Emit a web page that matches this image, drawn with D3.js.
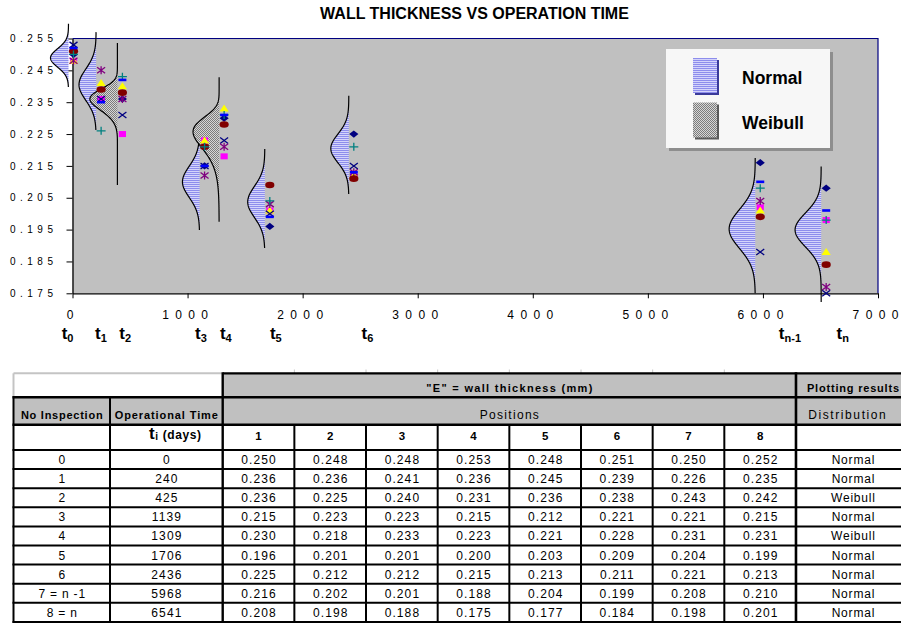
<!DOCTYPE html>
<html>
<head>
<meta charset="utf-8">
<script src="https://cdn.jsdelivr.net/npm/d3@7"></script>
<style>
  html, body { margin: 0; padding: 0; background: #fff; }
  svg { display: block; font-family: "Liberation Sans", Arial, sans-serif; }
</style>
</head>
<body>
<svg id="chart" width="901" height="624"></svg>
<script>
// ---------------- data ----------------
const inspectionLabels = ["0", "1", "2", "3", "4", "5", "6", "7 = n -1", "8 = n"];
const timeDays = [0, 240, 425, 1139, 1309, 1706, 2436, 5968, 6541];
const timeSubscripts = ["0", "1", "2", "3", "4", "5", "6", "n-1", "n"];

// wall thickness (mm) at measuring positions 1..8, one value per inspection
const pos1 = [0.250, 0.236, 0.236, 0.215, 0.230, 0.196, 0.225, 0.216, 0.208];
const pos2 = [0.248, 0.236, 0.225, 0.223, 0.218, 0.201, 0.212, 0.202, 0.198];
const pos3 = [0.248, 0.241, 0.240, 0.223, 0.233, 0.201, 0.212, 0.201, 0.188];
const pos4 = [0.253, 0.236, 0.231, 0.215, 0.223, 0.200, 0.215, 0.188, 0.175];
const pos5 = [0.248, 0.245, 0.236, 0.212, 0.221, 0.203, 0.213, 0.204, 0.177];
const pos6 = [0.251, 0.239, 0.238, 0.221, 0.228, 0.209, 0.211, 0.199, 0.184];
const pos7 = [0.250, 0.226, 0.243, 0.221, 0.231, 0.204, 0.221, 0.208, 0.198];
const pos8 = [0.252, 0.235, 0.242, 0.215, 0.231, 0.199, 0.213, 0.210, 0.201];
const positions = [pos1, pos2, pos3, pos4, pos5, pos6, pos7, pos8];

const distribution = ["Normal", "Normal", "Weibull", "Normal", "Weibull", "Normal", "Normal", "Normal", "Normal"];
const distributionTypes = ["Normal", "Weibull"];

// fitted density per inspection: centre = mean (Normal) or mode (Weibull),
// spread = standard deviation (Normal) or scale (Weibull)
const curveCentre = [0.2489, 0.2405, 0.2360, 0.2100, 0.2257, 0.2037, 0.2205, 0.1952, 0.1949];
const curveSpread = [0.0029, 0.0049, 0.0156, 0.0049, 0.0569, 0.0049, 0.0045, 0.0061, 0.0053];
const weibullShape = [null, null, 5, null, 12, null, null, null, null];
const curveLow  = [0.2398, 0.2263, 0.2090, 0.1949, 0.1975, 0.1892, 0.2062, 0.1750, 0.1723];
const curveHigh = [0.2596, 0.2570, 0.2536, 0.2225, 0.2428, 0.2203, 0.2370, 0.2175, 0.2148];
const curvePeak = [1.0, 0.95, 1.53, 0.95, 1.45, 0.95, 1.0, 1.45, 1.45];

const xTicks = [0, 1000, 2000, 3000, 4000, 5000, 6000, 7000];
const yTicks = [0.175, 0.185, 0.195, 0.205, 0.215, 0.225, 0.235, 0.245, 0.255];

const chartTitle = "WALL THICKNESS VS OPERATION TIME";

// ---------------- chart ----------------
const svg = d3.select("#chart");
const FONT = "Liberation Sans, Arial, sans-serif";
const plot = { left: 72.5, right: 878, top: 38.5, bottom: 293.3 };

const x = d3.scaleLinear().domain([0, 7000]).range([plot.left, plot.right]);
const y = d3.scaleLinear().domain([0.175, 0.255]).range([plot.bottom, plot.top]);
const bulge = d3.scaleLinear().domain([0, 1]).range([0, 18]);

const defs = svg.append("defs");
const pn = defs.append("pattern").attr("id", "normalFill")
  .attr("patternUnits", "userSpaceOnUse").attr("width", 4).attr("height", 2);
pn.append("rect").attr("width", 4).attr("height", 2).attr("fill", "#d4d4fb");
pn.append("rect").attr("width", 4).attr("height", 1).attr("fill", "#8d8dec");
const pw = defs.append("pattern").attr("id", "weibullFill")
  .attr("patternUnits", "userSpaceOnUse").attr("width", 2).attr("height", 2);
pw.append("rect").attr("width", 2).attr("height", 2).attr("fill", "#d6d6d6");
pw.append("rect").attr("x", 0).attr("y", 0).attr("width", 1).attr("height", 1).attr("fill", "#7c7c7c");
pw.append("rect").attr("x", 1).attr("y", 1).attr("width", 1).attr("height", 1).attr("fill", "#7c7c7c");

// title
svg.append("text")
  .attr("x", 474.5).attr("y", 19)
  .attr("text-anchor", "middle")
  .attr("font-size", 16).attr("font-weight", "bold")
  .text(chartTitle);

// plot area
svg.append("rect")
  .attr("x", plot.left).attr("y", plot.top)
  .attr("width", plot.right - plot.left).attr("height", plot.bottom - plot.top)
  .attr("fill", "#c0c0c0");
svg.append("path")
  .attr("d", `M${plot.left},${plot.top}H${plot.right}V${plot.bottom}`)
  .attr("fill", "none").attr("stroke", "#000080").attr("stroke-width", 1.2);

// axes
const yAxis = d3.axisLeft(y).tickValues(yTicks).tickSize(6).tickSizeOuter(0)
  .tickPadding(9).tickFormat(d3.format(".3f"));
svg.append("g").attr("transform", `translate(${plot.left},0)`).call(yAxis)
  .attr("font-family", FONT).attr("font-size", 10)
  .call(g => g.selectAll("text").attr("letter-spacing", "4.5px").attr("fill", "#000"))
  .call(g => g.select(".domain").attr("stroke", "#000").attr("stroke-width", 1.3));

// x labels: wide gaps between digits only (no trailing gap)
const xAxis = d3.axisBottom(x).tickValues(xTicks).tickSize(5).tickSizeOuter(0)
  .tickPadding(12).tickFormat(d3.format("d"));
svg.append("g").attr("transform", `translate(0,${plot.bottom})`).call(xAxis)
  .attr("font-family", FONT).attr("font-size", 12)
  .call(g => g.selectAll("text").attr("fill", "#000").attr("dx", -3)
    .each(function (d) {
      const n = String(d).length;
      if (n > 1) d3.select(this).attr("textLength", n * 6.67 + (n - 1) * 6.4).attr("lengthAdjust", "spacing");
    }))
  .call(g => g.select(".domain").attr("stroke", "#000").attr("stroke-width", 1.3));

// time labels t0 .. tn under the axis
const labelNudge = [-10.8, -5.1, -2.1, -8.6, -3.2, 1.1, 8.8, 19.6, 11.3];
const tl = svg.append("g").selectAll("text").data(timeDays).join("text")
  .attr("x", (d, i) => x(d) + labelNudge[i])
  .attr("y", 339)
  .attr("font-weight", "bold").attr("font-size", 17);
tl.append("tspan").text("t");
tl.append("tspan").attr("font-size", 11).attr("dy", 2.5).text((d, i) => timeSubscripts[i]);

// fitted density curves, drawn sideways to the left of each inspection time
function density(i, v) {
  if (distribution[i] === "Normal") {
    const z = (v - curveCentre[i]) / curveSpread[i];
    return Math.exp(-0.5 * z * z);
  }
  const k = weibullShape[i], lam = curveSpread[i];
  const zm = Math.pow((k - 1) / k, 1 / k);
  const loc = curveCentre[i] - lam * zm;
  const z = (v - loc) / lam;
  if (z <= 0) return 0;
  const f = zz => Math.pow(zz, k - 1) * Math.exp(-Math.pow(zz, k));
  return f(z) / f(zm);
}

const curveG = svg.append("g");
timeDays.forEach((t, i) => {
  const base = x(t) - 4;
  const n = 200;
  const pts = d3.range(n + 1).map(j => {
    const v = curveLow[i] + (curveHigh[i] - curveLow[i]) * j / n;
    return { v, w: bulge(curvePeak[i] * density(i, v)) };
  });
  const area = d3.area().y(d => y(d.v)).x0(base).x1(d => base - d.w).curve(d3.curveLinear);
  const line = d3.line().y(d => y(d.v)).x(d => base - d.w);
  curveG.append("path").attr("d", area(pts))
    .attr("fill", distribution[i] === "Normal" ? "url(#normalFill)" : "url(#weibullFill)");
  curveG.append("path").attr("d", line(pts))
    .attr("fill", "none").attr("stroke", "#000").attr("stroke-width", 1.2);
});

// markers, one series per measuring position
const markerStyle = [
  { color: "#000080", draw: g => g.append("path").attr("d", "M0,-3.6L4.6,0L0,3.6L-4.6,0Z") },
  { color: "#ff00ff", draw: g => g.append("rect").attr("x", -3.6).attr("y", -3).attr("width", 7.2).attr("height", 6) },
  { color: "#ffff00", draw: g => g.append("path").attr("d", "M0,-4L4.6,3L-4.6,3Z") },
  { color: "#000080", stroke: true, draw: g => g.append("path").attr("d", "M-4,-3L4,3M-4,3L4,-3") },
  { color: "#800080", stroke: true, draw: g => g.append("path").attr("d", "M-4,-3L4,3M-4,3L4,-3M0,-4V4") },
  { color: "#800000", draw: g => g.append("ellipse").attr("rx", 4.6).attr("ry", 3.3) },
  { color: "#008080", stroke: true, draw: g => g.append("path").attr("d", "M-4.5,0H4.5M0,-4V4") },
  { color: "#0000ff", draw: g => g.append("rect").attr("x", -4).attr("y", -1.3).attr("width", 8).attr("height", 2.6) }
];

const markG = svg.append("g");
positions.forEach((series, p) => {
  const st = markerStyle[p];
  series.forEach((v, i) => {
    const g = markG.append("g").attr("transform", `translate(${x(timeDays[i]) + 1},${y(v)})`);
    const m = st.draw(g);
    if (st.stroke) m.attr("fill", "none").attr("stroke", st.color).attr("stroke-width", 1.3);
    else m.attr("fill", st.color);
  });
});

// legend
const lg = svg.append("g");
lg.append("rect").attr("x", 669).attr("y", 52).attr("width", 164).attr("height", 99).attr("fill", "#8e8e8e");
lg.append("rect").attr("x", 666).attr("y", 49).attr("width", 164).attr("height", 99).attr("fill", "#f7f7f7");
const swatchFill = { Normal: ["url(#normalFill)", "#3a3a9a"], Weibull: ["url(#weibullFill)", "#5a5a5a"] };
distributionTypes.forEach((name, k) => {
  const top = 58 + k * 44.5;
  lg.append("rect").attr("x", 695).attr("y", top + 2).attr("width", 24).attr("height", 35).attr("fill", swatchFill[name][1]);
  lg.append("rect").attr("x", 693).attr("y", top).attr("width", 24).attr("height", 35).attr("fill", swatchFill[name][0]);
  lg.append("text").attr("x", 742).attr("y", top + 26)
    .attr("font-size", 17.5).attr("font-weight", "bold").text(name);
});

// ---------------- table ----------------
const tbl = svg.append("g");
const colEdges = [13.5, 110, 222.7];
for (let c = 1; c <= 8; c++) colEdges.push(222.7 + 71.66 * c);
colEdges.push(906);
const rowEdges = [373.3, 397.3, 424.7, 450];
for (let r = 1; r <= inspectionLabels.length; r++) rowEdges.push(450 + 19.1 * r);
const tableBottom = rowEdges[rowEdges.length - 1];
const colMid = c => (colEdges[c] + colEdges[c + 1]) / 2;
const spanMid = (a, b) => (colEdges[a] + colEdges[b + 1]) / 2;

// header fills
const gray = "#c0c0c0";
tbl.append("rect").attr("x", colEdges[2]).attr("y", rowEdges[0])
  .attr("width", colEdges[11] - colEdges[2]).attr("height", rowEdges[1] - rowEdges[0]).attr("fill", gray);
tbl.append("rect").attr("x", colEdges[0]).attr("y", rowEdges[1])
  .attr("width", colEdges[11] - colEdges[0]).attr("height", rowEdges[2] - rowEdges[1]).attr("fill", gray);

// grid lines
const hLine = (yy, x1, x2, color, w) => tbl.append("line")
  .attr("x1", x1).attr("x2", x2).attr("y1", yy).attr("y2", yy).attr("stroke", color).attr("stroke-width", w);
const vLine = (xx, y1, y2, color, w) => tbl.append("line")
  .attr("x1", xx).attr("x2", xx).attr("y1", y1).attr("y2", y2).attr("stroke", color).attr("stroke-width", w);

for (let c = 3; c <= 9; c++) vLine(colEdges[c], 369.5, rowEdges[0], "#c8c8c8", 1);
hLine(rowEdges[0], colEdges[0], colEdges[2], "#c4c4c4", 2);
vLine(colEdges[0], rowEdges[0], rowEdges[1], "#c4c4c4", 2);
hLine(rowEdges[0], colEdges[2], colEdges[11], "#000", 2.2);
hLine(rowEdges[1], colEdges[0] - 1, colEdges[11], "#000", 2.6);
hLine(rowEdges[2], colEdges[0] - 1, colEdges[11], "#000", 2.6);
for (let r = 3; r < rowEdges.length; r++) hLine(rowEdges[r], colEdges[0] - 1, colEdges[11], "#000", 2);
vLine(colEdges[0], rowEdges[1] - 1, tableBottom + 1, "#000", 2);
vLine(colEdges[1], rowEdges[1], tableBottom, "#000", 2);
vLine(colEdges[2], rowEdges[0] - 1, tableBottom, "#000", 2.4);
for (let c = 3; c <= 9; c++) vLine(colEdges[c], rowEdges[2], tableBottom, "#000", 2);
vLine(colEdges[10], rowEdges[0] - 1, tableBottom, "#000", 2.6);

const cellText = (cx, cy, txt, o = {}) => {
  const ls = o.ls == null ? 1.2 : o.ls;
  return tbl.append("text").attr("x", cx + ls / 2).attr("y", cy)
    .attr("text-anchor", "middle")
    .attr("font-size", o.size || 12)
    .attr("font-weight", o.bold ? "bold" : null)
    .attr("letter-spacing", ls + "px")
    .text(txt);
};

cellText(spanMid(2, 9), 392, "\"E\" = wall thickness (mm)", { bold: true, size: 11, ls: 1.3 });
cellText(colMid(10) + 2, 392, "Plotting results", { bold: true, size: 11, ls: 0.8 });
cellText(colMid(0), 418.5, "No Inspection", { bold: true, size: 11, ls: 0.75 });
cellText(colMid(1), 418.5, "Operational Time", { bold: true, size: 11, ls: 0.9 });
cellText(spanMid(2, 9), 419, "Positions", { size: 12, ls: 1.3 });
cellText(colMid(10) - 4, 419, "Distribution", { size: 12, ls: 1.6 });

const tHead = tbl.append("text").attr("x", colMid(1) + 9).attr("y", 439)
  .attr("text-anchor", "middle").attr("font-weight", "bold").attr("font-size", 12).attr("letter-spacing", "0.6px");
tHead.append("tspan").attr("font-size", 17).text("t");
tHead.append("tspan").attr("font-size", 10).attr("dy", 1).text("i");
tHead.append("tspan").attr("dy", -1).text(" (days)");

positions.forEach((s, p) => cellText(colMid(2 + p), 439.5, String(p + 1), { bold: true, size: 11.5, ls: 0 }));

inspectionLabels.forEach((lab, i) => {
  const base = rowEdges[3 + i] + 14;
  cellText(colMid(0), base, lab, { ls: 0.8 });
  cellText(colMid(1), base, String(timeDays[i]), { ls: 1.1 });
  positions.forEach((s, p) => cellText(colMid(2 + p), base, d3.format(".3f")(s[i]), { ls: 1.1 }));
  cellText(colMid(10) + 2, base, distribution[i], { ls: 0.8 });
});
</script>
</body>
</html>
